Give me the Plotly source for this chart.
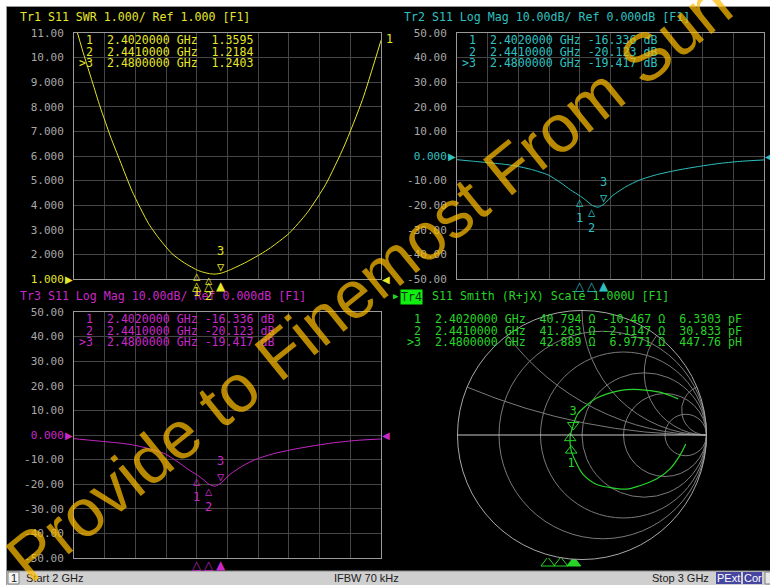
import numpy as np
import plotly.graph_objects as go

W, H = 770, 585
def px(x): return x / W
def py(y): return 1 - y / H

# ---------------- data ----------------
freq_swr = [2.000, 2.030, 2.060, 2.085, 2.120, 2.150, 2.190, 2.243, 2.280, 2.320, 2.360, 2.388,
            2.402, 2.420, 2.441, 2.460, 2.480, 2.510, 2.560, 2.606, 2.640, 2.700, 2.760, 2.820,
            2.880, 2.940, 3.000]
swr = [11.5, 10.2, 9.0, 8.0, 6.75, 5.8, 4.55, 3.25, 2.6, 2.02, 1.65, 1.45,
       1.3595, 1.28, 1.2184, 1.20, 1.2403, 1.38, 1.68, 2.0, 2.27, 2.85, 3.7, 4.85,
       6.4, 8.3, 10.7]

freq_db = [2.000, 2.050, 2.100, 2.150, 2.190, 2.243, 2.297, 2.339, 2.370, 2.402, 2.420, 2.441,
           2.460, 2.480, 2.508, 2.550, 2.594, 2.650, 2.720, 2.790, 2.850, 2.920, 3.000]
s11_db = [-1.5, -2.1, -2.7, -3.3, -4.0, -5.5, -7.7, -11.0, -13.8, -16.336, -18.0, -20.123,
          -20.8, -19.417, -16.0, -12.5, -9.8, -7.6, -5.7, -4.2, -3.1, -2.2, -1.6]

# Smith trace, reflection coefficient (2 GHz -> 3 GHz)
smith_gr = [0.833, 0.785, 0.705, 0.597, 0.463, 0.356, 0.221, 0.114, 0.007, -0.047,
            -0.087, -0.096, -0.070, -0.034, 0.034, 0.114, 0.302, 0.463, 0.624, 0.772]
smith_gi = [-0.072, -0.166, -0.274, -0.354, -0.408, -0.435, -0.421, -0.395, -0.314, -0.220,
            -0.125, -0.025, 0.080, 0.169, 0.236, 0.295, 0.357, 0.365, 0.344, 0.290]

mk_labels = ["1", "2", "3"]
mk_freq = [2.402, 2.441, 2.480]
mk_freq_txt = ["2.4020000", "2.4410000", "2.4800000"]
mk_swr = [1.3595, 1.2184, 1.2403]
mk_db = [-16.336, -20.123, -19.417]
mk_R = [40.794, 41.263, 42.889]
mk_X = [-10.467, -2.1147, 6.9771]
mk_lc = ["6.3303 pF", "30.833 pF", "447.76 pH"]
Z0 = 50.0

swr_tickvals = [11, 10, 9, 8, 7, 6, 5, 4, 3, 2, 1]
swr_ticktext = ["11.00", "10.00", "9.000", "8.000", "7.000", "6.000", "5.000", "4.000",
                "3.000", "2.000", "1.000"]
db_tickvals = [50, 40, 30, 20, 10, 0, -10, -20, -30, -40, -50]
db_ticktext = ["50.00", "40.00", "30.00", "20.00", "10.00", "0.000", "-10.00", "-20.00",
               "-30.00", "-40.00", "-50.00"]

# ---------------- styles ----------------
YEL = "#e6e62a"
CYA = "#30c0c0"
MAG = "#c828c8"
GRN = "#28d428"
GRID = "#454545"
FRAME = "#9a9a9a"
TICKC = "#a8a8a8"
MONO = "DejaVu Sans Mono"
NB = "\u00a0"

def nb(s):
    return s.replace(" ", NB)

fig = go.Figure()

fig.add_trace(go.Scatter(x=freq_swr, y=swr, mode="lines", line=dict(color=YEL, width=1, shape="spline", smoothing=0.6),
                         xaxis="x", yaxis="y", hoverinfo="skip"))
fig.add_trace(go.Scatter(x=freq_db, y=s11_db, mode="lines", line=dict(color=CYA, width=1, shape="spline", smoothing=0.6),
                         xaxis="x2", yaxis="y2", hoverinfo="skip"))
fig.add_trace(go.Scatter(x=freq_db, y=s11_db, mode="lines", line=dict(color=MAG, width=1, shape="spline", smoothing=0.6),
                         xaxis="x3", yaxis="y3", hoverinfo="skip"))

g = np.array(smith_gr) + 1j * np.array(smith_gi)
z = (1 + g) / (1 - g)
fig.add_trace(go.Scattersmith(real=z.real, imag=z.imag, mode="lines",
                              line=dict(color=GRN, width=1.2, shape="spline"), hoverinfo="skip"))
zm = (np.array(mk_R) + 1j * np.array(mk_X)) / Z0
fig.add_trace(go.Scattersmith(real=zm.real, imag=zm.imag, mode="markers+text",
                              marker=dict(symbol=["triangle-up-open", "triangle-up-open", "triangle-down-open"],
                                          size=10, color=GRN, line=dict(width=1)),
                              text=["1", "", "3"], textposition=["bottom center", "bottom center", "top center"],
                              textfont=dict(family=MONO, size=12, color=GRN), hoverinfo="skip"))
fig.add_trace(go.Scatter(x=mk_freq, y=[0, 0, 0], mode="markers", xaxis="x5", yaxis="y5",
                         marker=dict(symbol=["triangle-up-open", "triangle-up-open", "triangle-up"],
                                     size=12, color=GRN, line=dict(width=1, color=GRN)), hoverinfo="skip"))

def xax(x0, x1):
    return dict(domain=[px(x0), px(x1)], range=[2, 3], tick0=2, dtick=0.1, showgrid=True,
                gridcolor=GRID, gridwidth=1, showticklabels=False, ticks="", zeroline=False,
                showline=True, linecolor=FRAME, linewidth=1, mirror=True, fixedrange=True)

def yax(y0, y1, rng, tv, tt, anchor):
    return dict(domain=[py(y1), py(y0)], range=rng, tickvals=tv, ticktext=tt, showgrid=True,
                gridcolor=GRID, gridwidth=1, zeroline=False, showline=True, linecolor=FRAME,
                linewidth=1, mirror=True, ticks="outside", ticklen=7, tickcolor="rgba(0,0,0,0)",
                tickfont=dict(family=MONO, size=11, color=TICKC), anchor=anchor, fixedrange=True)

swr_tt = list(swr_ticktext)
swr_tt[-1] = f'<span style="color:{YEL}">1.000</span>'
db_tt2 = list(db_ticktext)
db_tt2[5] = f'<span style="color:{CYA}">0.000</span>'
db_tt3 = list(db_ticktext)
db_tt3[5] = f'<span style="color:{MAG}">0.000</span>'

P1 = (74, 381, 33, 279)
P2 = (457, 764, 33, 279)
P3 = (74, 381, 312, 558)

layout = dict(
    width=W, height=H, margin=dict(l=0, r=0, t=0, b=0, autoexpand=False),
    paper_bgcolor="black", plot_bgcolor="black", showlegend=False,
    xaxis=dict(xax(P1[0], P1[1]), anchor="y"),
    yaxis=yax(P1[2], P1[3], [1, 11], swr_tickvals, swr_tt, "x"),
    xaxis2=dict(xax(P2[0], P2[1]), anchor="y2"),
    yaxis2=yax(P2[2], P2[3], [-50, 50], db_tickvals, db_tt2, "x2"),
    xaxis3=dict(xax(P3[0], P3[1]), anchor="y3"),
    yaxis3=yax(P3[2], P3[3], [-50, 50], db_tickvals, db_tt3, "x3"),
    xaxis5=dict(domain=[px(414), px(747)], range=[2, 3], visible=False, anchor="y5", fixedrange=True),
    yaxis5=dict(domain=[py(568), py(558)], range=[-1, 1], visible=False, anchor="x5", fixedrange=True),
    smith=dict(domain=dict(x=[px(457.5), px(706.5)], y=[py(559.5), py(310.5)]), bgcolor="black",
               realaxis=dict(showticklabels=False, gridcolor="#7a7a7a", linecolor="#c8c8c8", ticks="",
                             tickvals=[0.2, 0.5, 1.0, 2.0, 5.0], gridwidth=1, linewidth=1),
               imaginaryaxis=dict(showticklabels=False, gridcolor="#7a7a7a", linecolor="#a8a8a8", ticks="",
                                  tickvals=[0.2, 0.5, 1.0, 2.0, 5.0], gridwidth=1, linewidth=1)),
)
fig.update_layout(**layout)

ann = []
def text(x, y, s, color, size=11.6, family=MONO, xanchor="left", yanchor="middle", **kw):
    ann.append(dict(x=px(x), y=py(y), xref="paper", yref="paper", text=s, showarrow=False,
                    xanchor=xanchor, yanchor=yanchor, font=dict(family=family, size=size, color=color), **kw))

text(18, 17, nb("Tr1 S11 SWR 1.000/ Ref 1.000 [F1]"), YEL)
text(402, 17, nb("Tr2 S11 Log Mag 10.00dB/ Ref 0.000dB [F1]"), CYA)
text(18, 296, nb("Tr3 S11 Log Mag 10.00dB/ Ref 0.000dB [F1]"), MAG)
text(391, 296, "▶", GRN, size=9)
text(400, 296.5, "Tr4", "#103010", bgcolor="#10f010", borderpad=0)
text(430, 296, nb("S11 Smith (R+jX) Scale 1.000U [F1]"), GRN)
text(384, 39, "1", YEL)

rows_y = [40, 51.5, 63]
rows_y4 = [319, 330.5, 342]
for i in range(3):
    lab = (">" if i == 2 else " ") + mk_labels[i]
    text(77, rows_y[i], nb(f"{lab}  {mk_freq_txt[i]} GHz  {mk_swr[i]:.4f}"), YEL)
    text(460, rows_y[i], nb(f"{lab}  {mk_freq_txt[i]} GHz {mk_db[i]:.3f} dB"), CYA)
    text(77, rows_y[i] + 279, nb(f"{lab}  {mk_freq_txt[i]} GHz {mk_db[i]:.3f} dB"), MAG)
    xs = f"{mk_X[i]:.5g}"
    text(405, rows_y4[i], nb(f"{lab}  {mk_freq_txt[i]} GHz  {mk_R[i]:.3f} Ω {xs:>7} Ω  {mk_lc[i]}"), GRN)

panels = [("x", "y", mk_swr, YEL, 1), ("x2", "y2", mk_db, CYA, 0), ("x3", "y3", mk_db, MAG, 0)]
for xr, yr, vals, col, ref in panels:
    for i in range(3):
        if i < 2:
            ann.append(dict(x=mk_freq[i], y=vals[i], xref=xr, yref=yr, text="△<br>" + mk_labels[i],
                            showarrow=False, xanchor="center", yanchor="top", yshift=3,
                            font=dict(family=MONO, size=12, color=col)))
        else:
            ann.append(dict(x=mk_freq[i], y=vals[i], xref=xr, yref=yr, text=mk_labels[i] + "<br>▽",
                            showarrow=False, xanchor="center", yanchor="bottom", yshift=-3,
                            font=dict(family=MONO, size=12, color=col)))
        ann.append(dict(x=mk_freq[i], y=0, xref=xr, yref=yr + " domain", text="▲" if i == 2 else "△",
                        showarrow=False, xanchor="center", yanchor="top", yshift=2,
                        font=dict(family="DejaVu Sans", size=12, color=col)))
    ann.append(dict(x=0, y=ref, xref=xr + " domain", yref=yr, text="▶", showarrow=False,
                    xanchor="right", yanchor="middle", xshift=1, font=dict(family="DejaVu Sans", size=10, color=col)))
    ann.append(dict(x=1, y=ref, xref=xr + " domain", yref=yr, text="◀", showarrow=False,
                    xanchor="left", yanchor="middle", xshift=-1, font=dict(family="DejaVu Sans", size=10, color=col)))

shapes = [
    dict(type="rect", xref="paper", yref="paper", x0=0, x1=1, y0=py(6), y1=1, fillcolor="white", line_width=0),
    dict(type="rect", xref="paper", yref="paper", x0=0, x1=px(6), y0=0, y1=1, fillcolor="white", line_width=0),
    dict(type="line", xref="paper", yref="paper", x0=px(6), x1=1, y0=py(6.5), y1=py(6.5), line=dict(color="#9a9a9a", width=1)),
    dict(type="line", xref="paper", yref="paper", x0=px(6.5), x1=px(6.5), y0=0, y1=py(6), line=dict(color="#9a9a9a", width=1)),
    dict(type="rect", xref="paper", yref="paper", x0=px(7), x1=1, y0=0, y1=py(571), fillcolor="#cfcfcf", line_width=0),
    dict(type="line", xref="paper", yref="paper", x0=px(7), x1=1, y0=py(571), y1=py(571), line=dict(color="#8a8a8a", width=1)),
    dict(type="rect", xref="paper", yref="paper", x0=px(8), x1=px(19), y0=py(584), y1=py(572), fillcolor="#f4f4f4", line=dict(color="#808080", width=1)),
    dict(type="rect", xref="paper", yref="paper", x0=px(716), x1=px(741), y0=py(584), y1=py(572), fillcolor="#4646a0", line_width=0),
    dict(type="rect", xref="paper", yref="paper", x0=px(743), x1=px(762), y0=py(584), y1=py(572), fillcolor="#4646a0", line_width=0),
    dict(type="rect", xref="paper", yref="paper", x0=px(765), x1=px(771), y0=py(584), y1=py(572), fillcolor="#e8e8e8", line=dict(color="#808080", width=1)),
]
SF = "Liberation Sans"
text(13.5, 578, "1", "#202020", size=11, family=SF, xanchor="center")
text(24, 578, "Start 2 GHz", "#202020", size=11, family=SF)
text(366, 578, "IFBW 70 kHz", "#202020", size=11, family=SF, xanchor="center")
text(711, 578, "Stop 3 GHz", "#202020", size=11, family=SF, xanchor="right")
text(728.5, 578, "PExt", "white", size=11, family=SF, xanchor="center")
text(752.5, 578, "Cor", "white", size=11, family=SF, xanchor="center")

ann.append(dict(x=px(368), y=py(281), xref="paper", yref="paper", text="Provide to Finemost From Sun",
                showarrow=False, textangle=-39, xanchor="center", yanchor="middle",
                font=dict(family="Liberation Sans", size=67, color="rgba(255,190,0,0.72)")))

fig.update_layout(annotations=ann, shapes=shapes)
fig.write_html("out.html", config={"displayModeBar": False, "staticPlot": True},
               post_script="document.body.style.margin='0';document.documentElement.style.overflow='hidden';")
